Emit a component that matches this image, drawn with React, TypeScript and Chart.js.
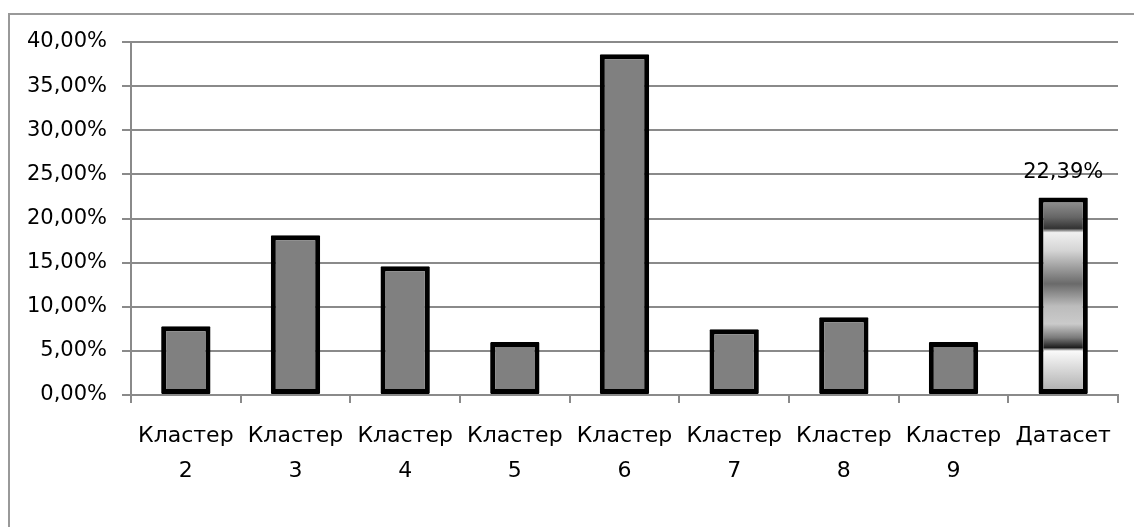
import React, { useEffect, useRef } from "react";
import { Chart, registerables } from "chart.js";

Chart.register(...registerables);

const categories: (string | string[])[] = [
  ["Кластер", "2"],
  ["Кластер", "3"],
  ["Кластер", "4"],
  ["Кластер", "5"],
  ["Кластер", "6"],
  ["Кластер", "7"],
  ["Кластер", "8"],
  ["Кластер", "9"],
  "Датасет",
];
const shares = [7.8, 18.1, 14.6, 6.0, 38.6, 7.45, 8.8, 6.0, 22.39];
const labelledIndex = 8;
const labelText = "22,39%";

const FONT = "'DejaVu Sans', sans-serif";

const fmt = (v: number) => v.toFixed(2).replace(".", ",") + "%";

export default function App() {
  const ref = useRef<HTMLCanvasElement | null>(null);

  useEffect(() => {
    if (!ref.current) return;
    const valueLabel = {
      id: "valueLabel",
      afterDatasetsDraw(chart: any) {
        const meta = chart.getDatasetMeta(0);
        const el = meta.data[labelledIndex];
        if (!el) return;
        const ctx = chart.ctx;
        ctx.save();
        ctx.font = `21px ${FONT}`;
        ctx.fillStyle = "#000";
        ctx.textAlign = "center";
        ctx.textBaseline = "alphabetic";
        ctx.fillText(labelText, el.x, el.y - 19);
        ctx.restore();
      },
    };

    const chart = new Chart(ref.current, {
      type: "bar",
      data: {
        labels: categories,
        datasets: [
          {
            data: shares,
            backgroundColor: (c: any) => {
              const ch = c.chart;
              if (c.dataIndex !== labelledIndex) return "#808080";
              if (!ch.chartArea || !ch.scales.y) return "#aaaaaa";
              const ys = ch.scales.y;
              const top = ys.getPixelForValue(shares[labelledIndex]);
              const bottom = ys.getPixelForValue(0);
              const g = ch.ctx.createLinearGradient(0, top, 0, bottom);
              g.addColorStop(0.0, "#9a9a9a");
              g.addColorStop(0.1, "#666666");
              g.addColorStop(0.157, "#333333");
              g.addColorStop(0.178, "#f0f0f0");
              g.addColorStop(0.27, "#d4d4d4");
              g.addColorStop(0.437, "#6a6a6a");
              g.addColorStop(0.55, "#bcbcbc");
              g.addColorStop(0.64, "#cacaca");
              g.addColorStop(0.71, "#7a7a7a");
              g.addColorStop(0.76, "#1e1e1e");
              g.addColorStop(0.777, "#fafafa");
              g.addColorStop(1.0, "#a8a8a8");
              return g;
            },
            borderColor: "#000000",
            borderWidth: 5,
            borderSkipped: false,
            borderRadius: 1,
            barPercentage: 0.45,
            categoryPercentage: 1,
          },
        ],
      },
      options: {
        responsive: false,
        animation: false,
        layout: { padding: { top: 42, right: 16, left: 0, bottom: 0 } },
        plugins: {
          legend: { display: false },
          tooltip: { enabled: false },
          title: { display: false },
        },
        scales: {
          x: {
            offset: true,
            afterFit: (s: any) => {
              s.height = 132;
            },
            grid: {
              display: true,
              drawOnChartArea: false,
              drawTicks: true,
              tickLength: 8,
              color: "#8a8a8a",
              lineWidth: 2,
            },
            border: { display: true, color: "#8a8a8a", width: 2 },
            ticks: {
              color: "#000",
              font: { family: FONT, size: 22, lineHeight: 1.59 },
              padding: 16,
              maxRotation: 0,
              autoSkip: false,
            },
          },
          y: {
            min: 0,
            max: 40,
            afterFit: (s: any) => {
              s.width = 131;
            },
            ticks: {
              stepSize: 5,
              color: "#000",
              font: { family: FONT, size: 21 },
              padding: 15,
              callback: (v: any) => fmt(Number(v)),
            },
            grid: {
              color: "#8a8a8a",
              lineWidth: 2,
              drawTicks: true,
              tickLength: 9,
            },
            border: { display: true, color: "#8a8a8a", width: 2 },
          },
        },
      },
      plugins: [valueLabel],
    });
    return () => chart.destroy();
  }, []);

  return (
    <div
      style={{
        position: "fixed",
        left: 0,
        top: 0,
        width: 1134,
        height: 527,
        overflow: "hidden",
        background: "#fff",
      }}
    >
      <div
        style={{
          position: "absolute",
          left: 8,
          top: 13,
          width: 1200,
          height: 600,
          borderTop: "2px solid #999",
          borderLeft: "2px solid #999",
        }}
      />
      <canvas
        ref={ref}
        width={1134}
        height={527}
        style={{ position: "absolute", left: 0, top: 0, display: "block" }}
      />
    </div>
  );
}
